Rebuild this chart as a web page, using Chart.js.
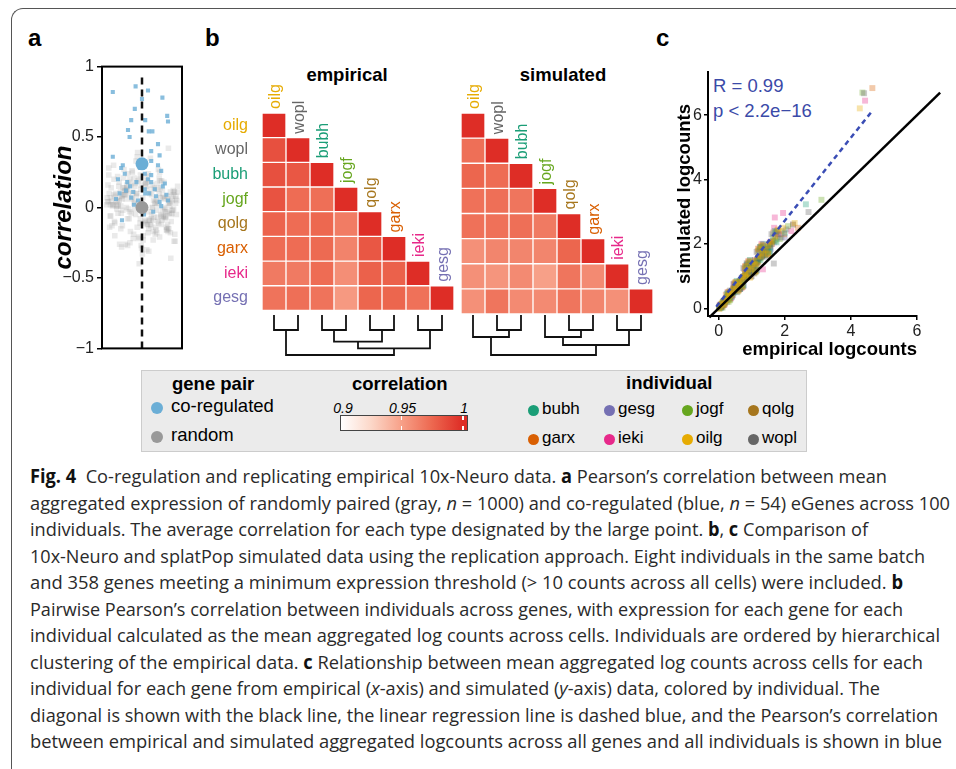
<!DOCTYPE html>
<html>
<head>
<meta charset="utf-8">
<script src="https://cdn.jsdelivr.net/npm/chart.js@4.4.0/dist/chart.umd.min.js"></script>
<style>
  body { margin: 0; background: #fff; }
  #page { position: relative; width: 956px; height: 769px; overflow: hidden; font-family: "Liberation Sans", Arial, sans-serif; color: #000; }
  canvas { position: absolute; }
  .t { position: absolute; white-space: nowrap; line-height: 1; }
  .cap { position: absolute; left: 30px; font-family: "Open Sans", sans-serif; font-size: 19px; line-height: 26.5px; height: 26.5px; white-space: nowrap; color: #2a2a2a; }
  .cap span { display: inline-block; transform-origin: 0 0; }
  .cap b { color: #111; }
  .dot { position: absolute; border-radius: 50%; }
</style>
</head>
<body>
<div id="page">
  <div style="position:absolute;left:11px;top:8px;width:980px;height:800px;border-top:1.5px solid #555;border-left:1.5px solid #555;border-top-left-radius:12px;"></div>

  <div class="t" style="left:28px;top:26px;font-size:24px;font-weight:bold;">a</div>
  <div class="t" style="left:205px;top:26px;font-size:24px;font-weight:bold;">b</div>
  <div class="t" style="left:656px;top:26px;font-size:24px;font-weight:bold;">c</div>

  <div class="t" style="left:347px;top:66px;font-size:18.5px;font-weight:bold;transform:translateX(-50%);">empirical</div>
  <div class="t" style="left:563px;top:66px;font-size:18.5px;font-weight:bold;transform:translateX(-50%);">simulated</div>

  <div class="t" style="left:713px;top:77px;font-size:18.5px;color:#3b4aa8;">R = 0.99</div>
  <div class="t" style="left:713px;top:102px;font-size:18.5px;color:#3b4aa8;">p &lt; 2.2e−16</div>

  <!-- legend box -->
  <div style="position:absolute;left:141px;top:370px;width:666px;height:82px;box-sizing:border-box;background:#ebebeb;border:1.5px solid #cccccc;"></div>
  <div class="t" style="left:172px;top:375px;font-size:18.5px;font-weight:bold;">gene pair</div>
  <div class="dot" style="left:151px;top:402px;width:12px;height:12px;background:#6baed6;"></div>
  <div class="t" style="left:171px;top:397px;font-size:18.5px;">co-regulated</div>
  <div class="dot" style="left:151px;top:431px;width:12px;height:12px;background:#999999;"></div>
  <div class="t" style="left:171px;top:426px;font-size:18.5px;">random</div>

  <div class="t" style="left:352px;top:375px;font-size:18.5px;font-weight:bold;">correlation</div>
  <div id="gradBar" style="position:absolute;left:340px;top:415px;width:128px;height:16px;box-sizing:border-box;border:1px solid #444;"></div>
  <div id="gradTicks"></div>

  <div class="t" style="left:626px;top:374px;font-size:18.5px;font-weight:bold;">individual</div>
  <div id="indLegend"></div>
</div>

<script>
// ---- panel a: correlation of gene pairs ----
const yTicksA = [-1, -0.5, 0, 0.5, 1];
const meanCoreg = 0.31;
const meanRandom = 0.0;
// jitter (frame half-width = 100) and correlation for co-regulated pairs
const blueX = [-73, -16, 15, 0, 51, -18, 63, 65, -27, 8, -35, -31, 17, 26, 40, 23, -73, 44, 23, -48,
  -52, 40, 48, -43, 7, 23, -14, -37, 23, 57, 7, 32, -22, -56, 8, 61, -27, 48, -50, 44,
  -10, 15, -40, 35, -20, 28, -60, 52, -5, -30, 65, -65, 5, 18];
const blueY = [0.82, 0.86, 0.83, 0.77, 0.78, 0.70, 0.65, 0.61, 0.62, 0.62, 0.55, 0.50, 0.54, 0.54, 0.45, 0.40, 0.36, 0.37, 0.33, 0.30,
  0.28, 0.30, 0.26, 0.24, 0.24, 0.23, 0.18, 0.18, 0.18, 0.17, 0.13, 0.13, 0.11, 0.10, 0.10, 0.09, 0.07, 0.01, -0.09, 0.04,
  0.05, 0.20, 0.12, 0.08, 0.02, -0.03, 0.20, 0.15, 0.28, 0.15, 0.05, 0.06, -0.05, 0.10];
// random pairs
const grayX = [-62, 14, 55, -31, 78, -8, 40, -77, 23, -45, 67, 2, -19, 81, -56, 33, -70, 9, 48, -38,
  71, -14, 26, -83, 59, -2, -49, 36, 12, -66, 84, -27, 4, 62, -41, 18, -74, 45, -9, 29,
  -58, 75, -21, 52, -35, 7, 66, -80, 38, -12, 21, -63, 80, -47, 15, -4, 57, -29, 43, -72,
  -16, 90, -51, 31, -86, 64, -24, 6, 47, -68, 25, -39, 73, -6, 53, -82, 17, -33, 69, 1,
  -43, 39, -76, 11, 61, -53, 28, -18, 85, -60, 42, -10, 65, -36, 19, -88, 50, -25, 77, -3,
  34, -65, 8, 58, -44, 82, -15, 24, -79, 46, -30, 70, -54, 13, -7, 63, -40, 37, -85, 54,
  -20, 16, -69, 74, -48, 30, -1, 87, -57, 22, -34, 60, -11, 44, -73, 10, 68, -26, 35, -61,
  79, -42, 3, 51, -84, 27, -17, 72, -50, 41, -5, 56, -37, 20, -67, 83, -23, 49, -78, 32,
  -13, 64, -46, 5, 76, -32, 39, -71, 15, -55, 86, -28, 48, -64, 24, -2, 70, -39, 57, -81,
  11, -52, 36, -22, 81, -59, 7, 44, -75, 62, -9, 28, -45, 73, -30, 17, -87, 52, -14, 66,
  -36, 89, -60, 21, -4, 47, -70, 33, -18, 78, -42, 9, 59, -26, 40, -83, 26, -53, 71, -7,
  55, -34, 14, -68, 84, -48, 30, -12, 65, -57, 3, 43, -79, 19, -38, 75, -20, 61, -50, 37];
const grayY = [0.05, -0.12, 0.18, -0.03, 0.09, -0.21, 0.02, 0.14, -0.08, 0.27, -0.15, 0.07, -0.01, 0.11, -0.26, 0.04, 0.20, -0.10, -0.05, 0.13,
  -0.18, 0.08, 0.00, 0.23, -0.07, 0.16, -0.13, 0.03, -0.30, 0.10, 0.06, -0.04, 0.31, -0.16, 0.12, -0.09, 0.01, 0.19, -0.22, 0.05,
  0.15, -0.02, -0.19, 0.08, 0.24, -0.11, 0.03, -0.06, 0.17, -0.14, 0.35, -0.01, -0.24, 0.09, 0.13, -0.08, 0.06, -0.17, 0.21, 0.02,
  -0.05, 0.11, -0.28, 0.14, 0.04, -0.12, 0.25, -0.03, 0.07, -0.20, 0.16, 0.00, -0.10, 0.29, -0.06, 0.10, -0.15, 0.18, 0.03, -0.33,
  0.12, -0.07, 0.05, 0.22, -0.16, 0.01, -0.23, 0.15, 0.08, -0.04, -0.11, 0.19, 0.06, -0.27, 0.10, 0.02, -0.09, 0.26, -0.02, 0.13,
  -0.14, 0.04, 0.17, -0.08, 0.09, -0.19, 0.33, -0.05, 0.07, 0.14, -0.25, 0.01, 0.11, -0.12, 0.20, -0.03, 0.06, -0.18, 0.16, -0.07,
  0.03, 0.24, -0.10, 0.08, -0.02, 0.13, -0.29, 0.05, 0.18, -0.13, 0.10, -0.06, 0.39, -0.21, 0.02, 0.15, -0.04, 0.07, -0.16, 0.22,
  -0.01, 0.09, -0.20, 0.12, 0.04, -0.09, 0.17, -0.36, 0.06, 0.27, -0.11, 0.00, 0.14, -0.03, 0.08, -0.24, 0.11, 0.19, -0.06, 0.03,
  0.10, -0.15, 0.21, -0.02, 0.05, -0.08, 0.13, 0.30, -0.18, 0.07, -0.05, 0.16, -0.12, 0.01, 0.09, -0.27, 0.04, 0.12, -0.01, -0.14,
  0.18, -0.04, 0.06, -0.22, 0.11, 0.02, -0.09, 0.25, -0.13, 0.08, 0.03, -0.17, 0.14, -0.05, 0.20, -0.31, 0.07, -0.02, 0.10, 0.42,
  -0.08, 0.15, 0.01, -0.12, 0.23, -0.06, 0.09, -0.19, 0.04, 0.12, -0.26, 0.17, -0.03, 0.06, -0.10, 0.28, 0.00, -0.15, 0.11, -0.40,
  0.07, -0.01, 0.19, -0.11, 0.03, 0.14, -0.07, 0.36, -0.17, 0.05, -0.23, 0.10, 0.02, -0.09, 0.16, -0.04, 0.21, -0.14, 0.08, -0.02];

// ---- panel b: correlation heatmaps ----
const individuals = ['oilg', 'wopl', 'bubh', 'jogf', 'qolg', 'garx', 'ieki', 'gesg'];
const indColors = { bubh: '#1B9E77', gesg: '#7570B3', jogf: '#66A61E', qolg: '#A6761D',
  garx: '#D95F02', ieki: '#E7298A', oilg: '#E6AB02', wopl: '#666666' };
const empiricalCorr = [
  [1],
  [0.985, 1],
  [0.985, 0.982, 1],
  [0.984, 0.973, 0.972, 1],
  [0.977, 0.973, 0.975, 0.966, 1],
  [0.973, 0.973, 0.974, 0.963, 0.982, 1],
  [0.967, 0.967, 0.973, 0.958, 0.978, 0.978, 1],
  [0.970, 0.972, 0.970, 0.953, 0.976, 0.976, 0.971, 1]
];
const simulatedCorr = [
  [1],
  [0.972, 1],
  [0.976, 0.973, 1],
  [0.971, 0.972, 0.969, 1],
  [0.971, 0.971, 0.972, 0.967, 1],
  [0.957, 0.962, 0.962, 0.962, 0.976, 1],
  [0.957, 0.955, 0.960, 0.950, 0.969, 0.960, 1],
  [0.957, 0.969, 0.960, 0.960, 0.969, 0.962, 0.957, 1]
];
// dendrograms: [left, right, height]; negative = leaf (1-based), positive = earlier merge
const empiricalMerges = [[-1, -2, 0.15], [-3, -4, 0.15], [-5, -6, 0.15], [-7, -8, 0.15], [2, 3, 0.267], [5, 4, 0.333], [1, 6, 0.40]];
const simulatedMerges = [[-2, -3, 0.15], [-1, 1, 0.22], [-5, -6, 0.15], [-4, 3, 0.22], [-7, -8, 0.15], [4, 5, 0.30], [2, 6, 0.40]];
const corrStops = [0.9, 0.925, 0.95, 0.975, 1.0];
const corrColors = [[255, 255, 255], [252, 215, 200], [247, 160, 136], [237, 104, 80], [222, 45, 38]];
const legendTicks = [0.9, 0.95, 1];

// ---- panel c: logcounts ----
const xTicksC = [0, 2, 4, 6];
const yTicksC = [0, 2, 4, 6];
const diagX = [-0.28, 6.7];
const fitX = [-0.07, 4.66];
const fitY = [0.05, 6.15];
const oilgLog = [[0.05,0.04],[0.12,0.18],[0.2,0.22],[0.28,0.38],[0.35,0.42],[0.45,0.6],[0.52,0.62],[0.6,0.8],[0.68,0.85],[0.75,0.98],[0.82,1.0],[0.9,1.2],[1.0,1.3],[1.1,1.38],[1.2,1.6],[1.35,1.7],[1.5,1.95],[1.7,2.2],[1.95,2.5],[2.3,2.65],[4.27,6.21],[0.4,0.45],[0.15,0.1],
  [0.08,0.12],[0.18,0.14],[0.25,0.33],[0.33,0.36],[0.42,0.55],[0.55,0.7],[0.63,0.74],[0.72,0.92],[0.8,1.08],[0.88,1.05],[0.97,1.22],[1.06,1.45],[1.15,1.35],[1.28,1.62],[1.42,1.8],[1.6,2.05],[0.02,-0.02],[0.3,0.25],
  [0.5,0.8],[0.7,0.7],[0.9,1.45],[1.1,1.15],[1.3,1.95],[0.3,0.5],[1.5,1.7],[0.6,0.55],[1.8,2.45],[1.2,1.85],[0.8,1.3],[0.95,0.95]];
const woplLog = [[0.04,0.06],[0.1,0.12],[0.18,0.25],[0.3,0.35],[0.38,0.5],[0.5,0.58],[0.58,0.75],[0.66,0.78],[0.78,0.95],[0.86,1.1],[0.95,1.15],[1.05,1.35],[1.15,1.4],[1.3,1.62],[1.45,1.8],[1.67,1.39],[1.8,2.3],[2.05,2.45],[2.72,2.99],[4.4,6.68],[0.25,0.2],[0.7,0.95],
  [0.07,0.02],[0.14,0.2],[0.22,0.26],[0.34,0.45],[0.44,0.5],[0.54,0.68],[0.62,0.7],[0.74,0.9],[0.82,1.02],[0.9,1.18],[1.0,1.25],[1.1,1.3],[1.22,1.55],[1.36,1.72],[1.55,1.95],[1.9,2.2],[0.48,0.6],[0.16,0.1],
  [0.45,0.75],[0.65,0.6],[0.85,1.4],[1.05,1.1],[1.25,1.9],[0.35,0.55],[1.4,1.6],[0.55,0.5],[1.6,2.3],[1.15,1.75],[0.75,1.25],[1.0,1.0]];
const bubhLog = [[0.06,0.02],[0.14,0.2],[0.22,0.3],[0.32,0.36],[0.42,0.55],[0.48,0.52],[0.56,0.7],[0.64,0.82],[0.72,0.88],[0.8,1.05],[0.92,1.1],[1.02,1.28],[1.12,1.45],[1.25,1.5],[1.4,1.78],[1.55,1.9],[1.75,2.05],[2.0,2.35],[2.64,3.23],[0.3,0.28],[0.9,1.0],
  [0.09,0.1],[0.17,0.15],[0.26,0.35],[0.36,0.46],[0.45,0.48],[0.52,0.66],[0.6,0.78],[0.68,0.8],[0.76,0.98],[0.86,1.15],[0.96,1.2],[1.07,1.32],[1.18,1.52],[1.32,1.62],[1.48,1.85],[1.65,2.2],[0.2,0.24],[0.02,0.05],
  [0.55,0.85],[0.75,0.72],[0.95,1.5],[1.15,1.2],[1.35,2.0],[0.25,0.45],[1.55,1.75],[0.65,0.6],[1.7,2.4],[1.25,1.9],[0.85,1.35],[0.4,0.35]];
const jogfLog = [[0.03,0.0],[0.11,0.15],[0.19,0.2],[0.27,0.32],[0.37,0.48],[0.47,0.55],[0.55,0.68],[0.63,0.72],[0.71,0.9],[0.83,0.95],[0.93,1.25],[1.03,1.2],[1.13,1.35],[1.28,1.55],[1.42,1.65],[1.6,2.0],[1.85,2.15],[2.1,2.55],[3.11,3.37],[4.35,6.7],[0.5,0.65],
  [0.07,0.08],[0.15,0.22],[0.23,0.26],[0.32,0.4],[0.42,0.5],[0.52,0.6],[0.59,0.76],[0.67,0.82],[0.76,0.96],[0.88,1.05],[0.98,1.15],[1.08,1.38],[1.2,1.45],[1.35,1.7],[1.5,1.9],[1.72,2.1],[0.3,0.2],[0.12,0.02],
  [0.5,0.72],[0.72,0.66],[0.92,1.42],[1.12,1.12],[1.32,1.88],[0.28,0.48],[1.52,1.72],[0.58,0.52],[1.75,2.38],[1.22,1.8],[0.82,1.28],[0.35,0.25]];
const qolgLog = [[0.05,0.08],[0.13,0.1],[0.21,0.28],[0.29,0.4],[0.39,0.44],[0.49,0.62],[0.57,0.66],[0.65,0.85],[0.74,0.92],[0.84,1.08],[0.94,1.18],[1.04,1.32],[1.16,1.5],[1.32,1.72],[1.48,1.85],[1.65,2.1],[1.9,2.4],[2.25,2.6],[0.6,0.7],[1.2,1.48],[0.33,0.44],
  [0.02,0.04],[0.09,0.14],[0.17,0.22],[0.25,0.3],[0.35,0.48],[0.44,0.52],[0.53,0.7],[0.61,0.75],[0.7,0.88],[0.79,1.0],[0.89,1.12],[0.99,1.28],[1.1,1.4],[1.24,1.58],[1.4,1.8],[1.56,1.95],[0.45,0.62],[0.2,0.16],
  [0.48,0.78],[0.68,0.65],[0.88,1.38],[1.08,1.08],[1.28,1.92],[0.32,0.52],[1.45,1.65],[0.62,0.58],[1.65,2.35],[1.18,1.78],[0.78,1.22],[0.98,0.98]];
const garxLog = [[0.07,0.05],[0.16,0.22],[0.24,0.26],[0.33,0.44],[0.41,0.5],[0.51,0.64],[0.59,0.72],[0.67,0.8],[0.77,1.0],[0.87,1.12],[0.97,1.2],[1.07,1.4],[1.18,1.42],[1.34,1.65],[1.52,2.0],[1.72,2.25],[1.98,2.3],[2.4,2.5],[4.65,6.84],[0.26,0.34],[0.1,0.05],
  [0.03,0.08],[0.12,0.12],[0.2,0.25],[0.29,0.38],[0.37,0.45],[0.46,0.58],[0.55,0.66],[0.63,0.84],[0.72,0.9],[0.82,1.06],[0.92,1.18],[1.02,1.26],[1.12,1.48],[1.26,1.58],[1.43,1.82],[1.62,2.08],[0.5,0.55],[0.35,0.3],
  [0.52,0.82],[0.74,0.68],[0.94,1.48],[1.14,1.16],[1.34,1.96],[0.22,0.42],[1.5,1.68],[0.66,0.62],[1.78,2.42],[1.28,1.88],[0.84,1.32],[0.42,0.4]];
const iekiLog = [[0.04,0.1],[0.12,0.08],[0.21,0.3],[0.3,0.33],[0.4,0.52],[0.5,0.66],[0.6,0.76],[0.7,0.82],[0.8,1.12],[0.9,1.05],[1.0,1.35],[1.1,1.5],[1.2,1.55],[1.34,1.21],[1.4,1.75],[1.55,2.05],[1.7,2.82],[1.95,2.96],[2.2,2.4],[4.43,6.45],[0.62,0.62],
  [0.08,0.05],[0.16,0.2],[0.25,0.28],[0.35,0.45],[0.45,0.55],[0.55,0.68],[0.65,0.8],[0.75,0.95],[0.85,1.1],[0.95,1.22],[1.05,1.3],[1.15,1.42],[1.27,1.62],[1.45,1.85],[1.62,2.0],[1.82,2.3],[0.18,0.12],[0.4,0.38],
  [0.46,0.74],[0.7,0.64],[0.9,1.46],[1.1,1.14],[1.3,2.0],[0.27,0.5],[1.48,1.7],[0.6,0.56],[1.68,2.5],[1.2,1.85],[0.8,1.3],[0.38,0.32]];
const gesgLog = [[0.06,0.12],[0.15,0.14],[0.23,0.32],[0.34,0.4],[0.44,0.58],[0.53,0.6],[0.62,0.78],[0.72,0.94],[0.82,0.98],[0.92,1.22],[1.02,1.25],[1.12,1.32],[1.22,1.58],[1.4,1.75],[1.58,1.85],[1.78,2.2],[2.0,2.2],[2.25,2.6],[0.36,0.3],[0.85,1.0],[1.3,1.6],
  [0.02,0.0],[0.1,0.08],[0.19,0.24],[0.28,0.36],[0.39,0.48],[0.48,0.62],[0.57,0.7],[0.67,0.86],[0.77,0.92],[0.87,1.1],[0.97,1.16],[1.07,1.38],[1.17,1.45],[1.32,1.65],[1.48,1.92],[1.68,2.05],[0.13,0.2],[0.6,0.65],
  [0.54,0.8],[0.76,0.7],[0.96,1.44],[1.16,1.18],[1.36,1.94],[0.3,0.46],[1.56,1.78],[0.64,0.6],[1.74,2.36],[1.24,1.82],[0.86,1.36],[0.44,0.42]];
const logcounts = { bubh: bubhLog, gesg: gesgLog, jogf: jogfLog, qolg: qolgLog, garx: garxLog, ieki: iekiLog, oilg: oilgLog, wopl: woplLog };

// ---- caption ----
const capLines = [
  '<b>Fig. 4</b>&nbsp; Co-regulation and replicating empirical 10x-Neuro data. <b>a</b> Pearson’s correlation between mean',
  'aggregated expression of randomly paired (gray, <i>n</i> = 1000) and co-regulated (blue, <i>n</i> = 54) eGenes across 100',
  'individuals. The average correlation for each type designated by the large point. <b>b</b>, <b>c</b> Comparison of',
  '10x-Neuro and splatPop simulated data using the replication approach. Eight individuals in the same batch',
  'and 358 genes meeting a minimum expression threshold (&gt; 10 counts across all cells) were included. <b>b</b>',
  'Pairwise Pearson’s correlation between individuals across genes, with expression for each gene for each',
  'individual calculated as the mean aggregated log counts across cells. Individuals are ordered by hierarchical',
  'clustering of the empirical data. <b>c</b> Relationship between mean aggregated log counts across cells for each',
  'individual for each gene from empirical (<i>x</i>-axis) and simulated (<i>y</i>-axis) data, colored by individual. The',
  'diagonal is shown with the black line, the linear regression line is dashed blue, and the Pearson’s correlation',
  'between empirical and simulated aggregated logcounts across all genes and all individuals is shown in blue'
];
const capEnds = [887, 950, 868, 925, 903, 903, 940, 923, 880, 938, 942];

Chart.defaults.font.family = '"Liberation Sans", Arial, sans-serif';
Chart.defaults.color = '#222';
Chart.defaults.animation = false;
Chart.defaults.responsive = false;
Chart.defaults.plugins.legend.display = false;
Chart.defaults.plugins.tooltip.enabled = false;

const page = document.getElementById('page');

function makeCanvas(left, top, w, h) {
  const c = document.createElement('canvas');
  c.width = w; c.height = h;
  c.style.left = left + 'px'; c.style.top = top + 'px';
  c.style.width = w + 'px'; c.style.height = h + 'px';
  page.appendChild(c);
  return c;
}

function corrColor(v) {
  let i = 0;
  while (i < corrStops.length - 2 && v > corrStops[i + 1]) i++;
  const t = Math.max(0, Math.min(1, (v - corrStops[i]) / (corrStops[i + 1] - corrStops[i])));
  const a = corrColors[i], b = corrColors[i + 1];
  return `rgb(${a.map((c, k) => Math.round(c + (b[k] - c) * t)).join(',')})`;
}

const minus = v => String(v).replace('-', '−');

const frame = {
  id: 'frame',
  afterDatasetsDraw(chart) {
    const { ctx, chartArea: a } = chart;
    ctx.save();
    ctx.strokeStyle = '#000';
    ctx.lineWidth = 2;
    ctx.strokeRect(a.left, a.top, a.width, a.height);
    ctx.restore();
  }
};

// panel a
new Chart(makeCanvas(30, 54, 162, 307), {
  type: 'scatter',
  data: {
    datasets: [
      { data: [{ x: 0, y: meanCoreg }], pointRadius: 6.5, backgroundColor: '#6baed6', borderWidth: 0 },
      { data: [{ x: 0, y: meanRandom }], pointRadius: 6.5, backgroundColor: '#9a9a9a', borderWidth: 0 },
      { type: 'line', data: [{ x: 0, y: -1 }, { x: 0, y: 0.94 }], borderColor: '#111', borderWidth: 2.5, borderDash: [7, 5], pointRadius: 0 },
      { data: blueX.map((x, i) => ({ x, y: blueY[i] })), pointStyle: 'rect', pointRadius: 2.9, backgroundColor: 'rgba(107,174,214,0.8)', borderWidth: 0 },
      { data: grayX.map((x, i) => ({ x, y: grayY[i] })), pointStyle: 'rect', pointRadius: 3.9, backgroundColor: 'rgba(150,150,150,0.2)', borderWidth: 0 }
    ]
  },
  options: {
    layout: { padding: { top: 12, bottom: 12, left: 0, right: 10 } },
    scales: {
      x: { type: 'linear', min: -100, max: 100, display: false },
      y: {
        type: 'linear', min: -1, max: 1,
        afterFit: s => { s.width = 72; },
        afterBuildTicks: s => { s.ticks = yTicksA.map(v => ({ value: v })); },
        ticks: { callback: v => minus(v), font: { size: 16 }, color: '#222', padding: 3 },
        grid: { drawOnChartArea: false, tickLength: 5, color: '#000', lineWidth: 1.5 },
        border: { display: false },
        title: { display: true, text: 'correlation', color: '#000', font: { size: 24, weight: 'bold', style: 'italic' }, padding: { top: 20, bottom: 0 } }
      }
    }
  },
  plugins: [frame]
});

// panel b heatmaps
const colLabels = {
  id: 'colLabels',
  afterDraw(chart) {
    const { ctx, scales: { x, y } } = chart;
    individuals.forEach((name, c) => {
      ctx.save();
      ctx.translate(x.getPixelForValue(c) + 2, y.getPixelForValue(8 - c) - 4);
      ctx.rotate(-Math.PI / 2);
      ctx.font = '16px "Liberation Sans", Arial, sans-serif';
      ctx.textAlign = 'left';
      ctx.textBaseline = 'middle';
      ctx.fillStyle = indColors[name];
      ctx.fillText(name, 0, 0);
      ctx.restore();
    });
  }
};

function heatmap(canvas, corr, showRows, padLeft) {
  return new Chart(canvas, {
    type: 'bar',
    data: {
      labels: individuals,
      datasets: individuals.map((name, r) => ({
        data: individuals.map((_, c) => c <= r ? [7 - r, 8 - r] : null),
        backgroundColor: individuals.map((_, c) => c <= r ? corrColor(corr[r][c]) : 'transparent'),
        borderColor: 'rgba(255,255,255,0.28)', borderWidth: 1, borderSkipped: false,
        barPercentage: 1, categoryPercentage: 1, grouped: false
      }))
    },
    options: {
      layout: { padding: { top: 63, bottom: 12, left: padLeft, right: 4 } },
      scales: {
        x: { type: 'category', display: false },
        y: {
          type: 'linear', min: 0, max: 8, display: showRows,
          afterFit: s => { s.width = showRows ? 62 : 0; },
          afterBuildTicks: s => { s.ticks = individuals.map((_, r) => ({ value: 7.5 - r })); },
          ticks: {
            callback: v => individuals[Math.round(7.5 - v)],
            color: ctx => indColors[individuals[Math.round(7.5 - ctx.tick.value)]],
            font: { size: 16 }, padding: 6
          },
          grid: { display: false }, border: { display: false }
        }
      }
    },
    plugins: [colLabels]
  });
}
heatmap(makeCanvas(200, 50, 258, 276), empiricalCorr, true, 0);
heatmap(makeCanvas(455, 50, 202, 276), simulatedCorr, false, 6);

function dendroSegments(merges) {
  const nodes = [];
  const pos = k => k < 0 ? { x: -k - 1, h: 0 } : nodes[k - 1];
  const segs = [];
  merges.forEach(([l, r, h]) => {
    const a = pos(l), b = pos(r);
    segs.push([{ x: a.x, y: a.h }, { x: a.x, y: h }, { x: b.x, y: h }, { x: b.x, y: b.h }]);
    nodes.push({ x: (a.x + b.x) / 2, h });
  });
  return segs;
}

function dendrogram(canvas, merges) {
  return new Chart(canvas, {
    type: 'scatter',
    data: {
      datasets: dendroSegments(merges).map(seg => ({
        type: 'line', data: seg, borderColor: '#111', borderWidth: 1.8, pointRadius: 0, clip: false
      }))
    },
    options: {
      layout: { padding: 4 },
      scales: {
        x: { type: 'linear', min: -0.5, max: 7.5, display: false },
        y: { type: 'linear', min: 0, max: 0.42, reverse: true, display: false }
      }
    }
  });
}
dendrogram(makeCanvas(258, 311, 200, 50), empiricalMerges);
dendrogram(makeCanvas(457, 311, 200, 50), simulatedMerges);

// panel c
new Chart(makeCanvas(660, 60, 287, 302), {
  type: 'scatter',
  data: {
    datasets: [
      { type: 'line', data: diagX.map(v => ({ x: v, y: v })), borderColor: '#000', borderWidth: 2.5, pointRadius: 0, clip: false },
      { type: 'line', data: fitX.map((x, i) => ({ x, y: fitY[i] })), borderColor: '#3a4db5', borderWidth: 2.5, borderDash: [5, 4], pointRadius: 0 },
      ...individuals.map(name => ({
        data: logcounts[name].map(([x, y]) => ({ x, y })),
        pointStyle: 'rect', pointRadius: 4.2, backgroundColor: indColors[name] + '55', borderWidth: 0
      }))
    ]
  },
  options: {
    layout: { padding: { top: 12, bottom: 0, left: 0, right: 30 } },
    scales: {
      x: {
        type: 'linear', min: -0.32, max: 6,
        afterFit: s => { s.height = 46; },
        afterBuildTicks: s => { s.ticks = xTicksC.map(v => ({ value: v })); },
        ticks: { font: { size: 16 }, color: '#222', padding: 2, maxRotation: 0 },
        grid: { drawOnChartArea: false, tickLength: 4, color: '#000', lineWidth: 1.5 },
        border: { display: true, color: '#000', width: 2 },
        title: { display: true, text: 'empirical logcounts', align: 'end', color: '#000', font: { size: 18.5, weight: 'bold' }, padding: { top: 0, bottom: 1 } }
      },
      y: {
        type: 'linear', min: -0.24, max: 7.34,
        afterFit: s => { s.width = 48; },
        afterBuildTicks: s => { s.ticks = yTicksC.map(v => ({ value: v })); },
        ticks: { font: { size: 16 }, color: '#222', padding: 2 },
        grid: { drawOnChartArea: false, tickLength: 4, color: '#000', lineWidth: 1.5 },
        border: { display: true, color: '#000', width: 2 },
        title: { display: true, text: 'simulated logcounts', color: '#000', font: { size: 18.5, weight: 'bold' }, padding: { top: 14, bottom: 0 } }
      }
    }
  }
});

// colour bar legend
const barLo = 0.9, barHi = 1.004;
const pct = v => ((v - barLo) / (barHi - barLo) * 100).toFixed(1) + '%';
document.getElementById('gradBar').style.background =
  'linear-gradient(to right,' + corrStops.map(v => corrColor(v) + ' ' + pct(v)).join(',') + ',' + corrColor(1) + ' 100%)';
const gt = document.getElementById('gradTicks');
legendTicks.forEach(v => {
  const px = 340 + (v - barLo) / (barHi - barLo) * 128;
  const lab = document.createElement('div');
  lab.className = 't';
  lab.style.cssText = `left:${px + (v === 0.9 ? 3 : 1)}px;top:401px;font-size:14px;font-style:italic;transform:translateX(-50%);`;
  lab.textContent = String(v);
  gt.appendChild(lab);
  if (v > barLo) {
    [416, 426].forEach(t => {
      const m = document.createElement('div');
      m.style.cssText = `position:absolute;left:${px - 0.75}px;top:${t}px;width:1.5px;height:4px;background:#fff;`;
      gt.appendChild(m);
    });
  }
});

// individual legend
const legendOrder = ['bubh', 'gesg', 'jogf', 'qolg', 'garx', 'ieki', 'oilg', 'wopl'];
const legCols = [533, 609, 687, 753];
const legRows = [410, 439];
const il = document.getElementById('indLegend');
legendOrder.forEach((name, i) => {
  const cx = legCols[i % 4], cy = legRows[Math.floor(i / 4)];
  const d = document.createElement('div');
  d.className = 'dot';
  d.style.cssText += `left:${cx - 5.5}px;top:${cy - 5.5}px;width:11px;height:11px;background:${indColors[name]};`;
  il.appendChild(d);
  const t = document.createElement('div');
  t.className = 't';
  t.style.cssText = `left:${cx + 9}px;top:${cy - 10}px;font-size:17px;`;
  t.textContent = name;
  il.appendChild(t);
});

// caption
capLines.forEach((html, i) => {
  const d = document.createElement('div');
  d.className = 'cap';
  d.style.top = (463.4 + i * 26.5) + 'px';
  const s = document.createElement('span');
  s.innerHTML = html;
  d.appendChild(s);
  page.appendChild(d);
  const w = s.getBoundingClientRect().width;
  s.style.transform = `scaleX(${(capEnds[i] - 30) / w})`;
});
</script>
</body>
</html>
